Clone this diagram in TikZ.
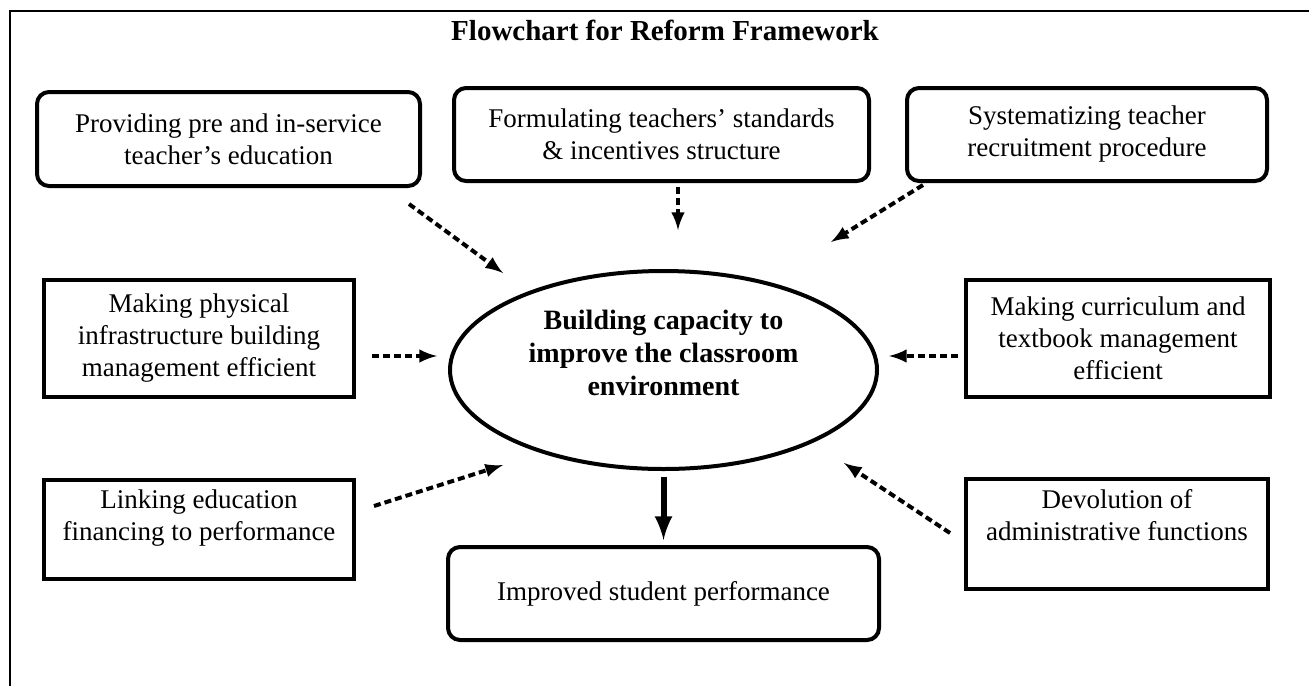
\documentclass[tikz,border=0pt]{standalone}
\usepackage{fontspec}
\setmainfont{Liberation Serif}
\usetikzlibrary{arrows,positioning,shapes}

\begin{document}
\begin{tikzpicture}[x=0.5pt,y=-0.5pt,
            box/.style={draw,rectangle,line width=2pt,align=center,inner xsep=4pt,inner ysep=1pt,font=\fontsize{13.5}{16}\selectfont},
            rbox/.style={box,rounded corners=6pt},
            hub/.style={draw,ellipse,line width=2pt,inner sep=0pt,align=center,font=\fontsize{14}{16.5}\selectfont\bfseries},
            dots/.style={draw,->,line width=2pt,dash pattern=on 3.5pt off 2pt},
            main/.style={draw,->,line width=3pt},
            >=latex
          ]
          \useasboundingbox (0,0) rectangle (1309,686);
          %frame
          \draw[line width=1pt] (10,686) -- (10,11) -- (1309,11);
          \node[font=\fontsize{14.5}{17}\selectfont\bfseries] (title) at (665,30) {Flowchart for Reform Framework};

          %top row
          \node[rbox,minimum width=191.5pt,minimum height=47pt] (prov) at (228.5,139) {Providing pre and in-service\\teacher’s education};
          \node[rbox,minimum width=207.5pt,minimum height=46.5pt] (form) at (661.5,134.5) {Formulating teachers’ standards\\\& incentives structure};
          \node[rbox,minimum width=180pt,minimum height=46.5pt] (syst) at (1087,134.5) {Systematizing teacher\\recruitment procedure};

          %centre
          \node[hub,minimum width=213.5pt,minimum height=99pt] (hub) at (663.5,370) {Building capacity to\\improve the classroom\\environment\\[-4pt]\strut};
          \node[rbox,minimum width=215.5pt,minimum height=46.5pt,below=37pt of hub] (impr) {Improved student performance};

          %side boxes
          \node[box,minimum width=155pt,minimum height=58.5pt] (phys) at (199,338.5) {Making physical\\infrastructure building\\management efficient};
          \node[box,minimum width=155pt,minimum height=49.5pt] (link) at (199,529.5) {Linking education\\financing to performance\\[-6pt]\strut};
          \node[box,minimum width=152pt,minimum height=58.5pt] (curr) at (1118,338.5) {Making curriculum and\\textbook management\\efficient};
          \node[box,minimum width=151pt,minimum height=55pt] (devo) at (1117,534) {Devolution of\\administrative functions\\[-2pt]\strut};

          %arrow tips
          \coordinate (a1) at (503,273);
          \coordinate (a2) at (678,230);
          \coordinate (a3) at (831,242);
          \coordinate (a4) at (437,356);
          \coordinate (a5) at (503,465);
          \coordinate (a6) at (889,356);
          \coordinate (a7) at (844,463);

          %arrows
          \draw[dots] ([shift={(-13,16)}]prov.south east) -- (a1);
          \draw[dots] ([shift={(16.5,4)}]form.south) -- (a2);
          \draw[dots] ([shift={(18,2)}]syst.south west) -- (a3);
          \draw[dots] ([shift={(16,17.5)}]phys.east) -- (a4);
          \draw[dots] ([shift={(18,-23.5)}]link.east) -- (a5);
          \draw[dots] ([shift={(-6,17.5)}]curr.west) -- (a6);
          \draw[dots] ([shift={(-14,-1)}]devo.west) -- (a7);
          \draw[main,shorten <=3pt,shorten >=2.5pt] (hub.south) -- (impr.north);
\end{tikzpicture}
\end{document}
